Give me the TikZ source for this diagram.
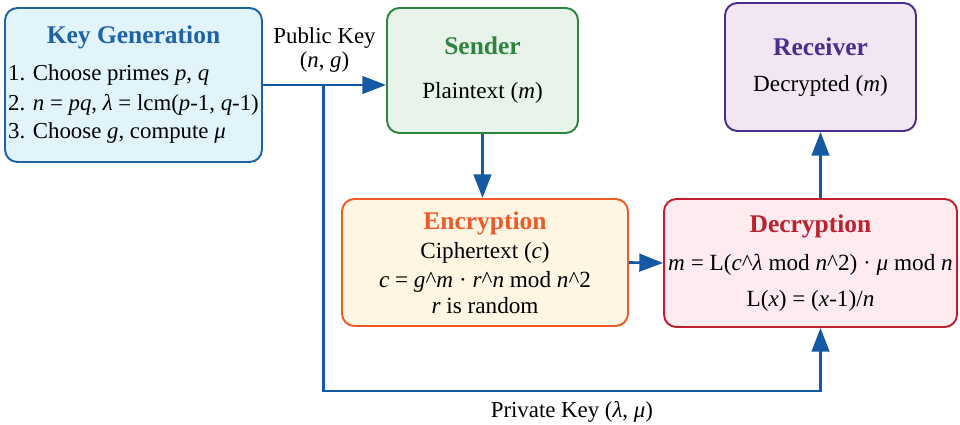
\documentclass[tikz,border=0pt]{standalone}
\usepackage{fontspec}
\setmainfont{Liberation Serif}
\usepackage{xcolor}
\usetikzlibrary{arrows.meta,positioning,calc}

\definecolor{kgline}{HTML}{1D63A6}
\definecolor{kgfill}{HTML}{E1F3FB}
\definecolor{sndline}{HTML}{2E8540}
\definecolor{sndfill}{HTML}{E8F4EA}
\definecolor{recline}{HTML}{4B2D8E}
\definecolor{recfill}{HTML}{F2E6F2}
\definecolor{encline}{HTML}{F05A28}
\definecolor{encfill}{HTML}{FFF5E3}
\definecolor{decline}{HTML}{C0202E}
\definecolor{decfill}{HTML}{FDEBEF}
\definecolor{linkblue}{HTML}{1558A3}

\newcommand{\boxtitle}[2]{{\color{#1}\fontsize{14.5}{17}\selectfont\bfseries #2}}

\begin{document}
\begin{tikzpicture}[x=0.02cm, y=-0.02cm, >={Triangle[length=13.5pt,width=10pt]}, font=\fontsize{13.2}{17}\selectfont]
        % Style definitions
        \tikzset{
            box/.style={draw, rectangle, rounded corners=7pt, line width=1.1pt, align=center, inner sep=2pt},
            link/.style={->, line width=1.5pt, draw=linkblue},
            lbl/.style={font=\fontsize{13}{14}\selectfont, align=center}
        }
        \useasboundingbox (0,0) rectangle (960,425);

        % Boxes
        \node [box, inner xsep=0pt, draw=kgline, fill=kgfill, minimum width=5.14cm, minimum height=3.08cm, font=\fontsize{13}{17}\selectfont] (kg) at (133.5,85) {%
            \raisebox{4pt}{\begin{tabular}{@{}l@{}}
            \multicolumn{1}{@{}c@{}}{\boxtitle{kgline}{Key Generation}}\\[4pt]
            1. Choose primes \textit{p}, \textit{q}\\
            2. \textit{n} = \textit{pq}, \textit{λ} = lcm(\textit{p}-1, \textit{q}-1)\\[-1pt]
            3. Choose \textit{g}, compute \textit{μ}
            \end{tabular}}};

        \node [box, draw=sndline, fill=sndfill, minimum width=3.82cm, minimum height=2.5cm] (snd) at (482.5,70.5)
            {\boxtitle{sndline}{Sender}\\[8pt] Plaintext (\textit{m})};

        \node [box, draw=recline, fill=recfill, minimum width=3.82cm, minimum height=2.56cm] (rec) at (820.5,67)
            {\boxtitle{recline}{Receiver}\\[3.5pt] Decrypted (\textit{m})};

        \node [box, draw=encline, fill=encfill, minimum width=5.72cm, minimum height=2.54cm] (enc) at (485,262.5)
            {\boxtitle{encline}{Encryption}\\ Ciphertext (\textit{c})\\[-1pt]
             \textit{c} = \textit{g}\textasciicircum\textit{m} · \textit{r}\textasciicircum\textit{n} mod \textit{n}\textasciicircum 2\\[-2pt]
             \textit{r} is random};

        \node [box, draw=decline, fill=decfill, minimum width=5.86cm, minimum height=2.56cm] (dec) at (810.5,263)
            {\boxtitle{decline}{Decryption}\\[5pt]
             \textit{m} = L(\textit{c}\textasciicircum\textit{λ} mod \textit{n}\textasciicircum 2) · \textit{μ} mod \textit{n}\\[3.5pt]
             L(\textit{x}) = (\textit{x}-1)/\textit{n}};

        % Public key
        \draw [link] (kg.east) -- node [lbl, above=3pt] {Public Key\\(\textit{n}, \textit{g})} (kg.east -| snd.west);
        \coordinate (split) at ($(kg.east)!0.49!(kg.east -| snd.west)$);

        % Message flow
        \draw [link] (snd.south) -- (snd.south |- enc.north);
        \draw [link] (enc.east) -- (dec.west);
        \draw [link] (rec.south |- dec.north) -- (rec.south);

        % Private key
        \coordinate (pkcorner) at ($(rec.south |- dec.south) + (0,63)$);
        \draw [link] (split) |- node [lbl, pos=0.75, below=2pt] {Private Key (\textit{λ}, \textit{μ})} (pkcorner) -- (pkcorner |- dec.south);
    \end{tikzpicture}
\end{document}
